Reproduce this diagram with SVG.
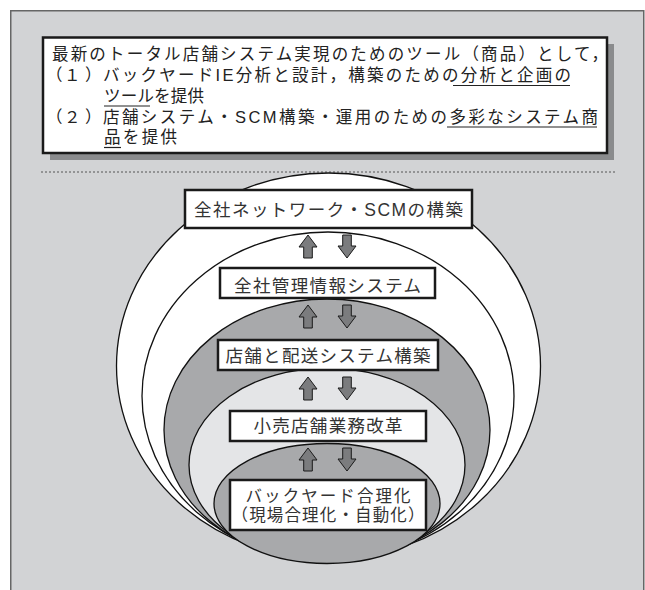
<svg xmlns="http://www.w3.org/2000/svg" width="645" height="590" viewBox="0 0 645 590">
<style>
  .t { font-family: "Liberation Sans", "Noto Sans CJK JP", sans-serif; fill: #222; }
  .top { font-size: 16.5px; }
  .lbl { font-size: 17.5px; fill: #333; text-anchor: middle; }
  .lbl2 { font-size: 16.5px; fill: #333; text-anchor: middle; }
  .box { fill: #fff; stroke: #1a1a1a; stroke-width: 2.5; }
  .ring { stroke: #111; stroke-width: 1.3; }
  .arr { fill: #7b7c7e; stroke: #1a1a1a; stroke-width: 1; stroke-linejoin: miter; }
  .ul { stroke: #222; stroke-width: 1.2; }
</style>
<defs>
  <path id="up" d="M0,0 L9,12 L4.3,12 L4.3,23 L-4.3,23 L-4.3,12 L-9,12 Z"/>
  <path id="down" d="M-4.3,0 L4.3,0 L4.3,11 L9,11 L0,23 L-9,11 L-4.3,11 Z"/>
</defs>
<rect x="0" y="0" width="645" height="590" fill="#fff"/>
<rect id="frame" x="10.75" y="10.75" width="633" height="590" fill="#d2d3d5" stroke="#666" stroke-width="1.5"/>

<g id="header">
  <rect x="50" y="44" width="564" height="116" fill="#8a8b8d"/>
  <rect class="box" x="43" y="37.5" width="564" height="115.5"/>
  <text class="t top"><tspan x="52" y="60" textLength="556" lengthAdjust="spacing">最新のトータル店舗システム実現のためのツール（商品）として，</tspan><tspan x="46 64 85" y="81">（１）</tspan><tspan x="103" y="81" textLength="468" lengthAdjust="spacing">バックヤードIE分析と設計，構築のための分析と企画の</tspan><tspan x="104" y="101.5" textLength="100" lengthAdjust="spacing">ツールを提供</tspan><tspan x="46 64 85" y="122.5">（２）</tspan><tspan x="103" y="122.5" textLength="495" lengthAdjust="spacing">店舗システム・SCM構築・運用のための多彩なシステム商</tspan><tspan x="104" y="143" textLength="73" lengthAdjust="spacing">品を提供</tspan></text>
  <line class="ul" x1="453" y1="85.5" x2="570" y2="85.5"/>
  <line class="ul" x1="104" y1="106" x2="150" y2="106"/>
  <line class="ul" x1="447" y1="127" x2="597" y2="127"/>
  <line class="ul" x1="104" y1="147.5" x2="121" y2="147.5"/>
</g>

<line id="divider" x1="41" y1="172" x2="615" y2="172" stroke="#555" stroke-width="1" stroke-dasharray="2,2"/>

<g id="rings">
  <ellipse class="ring" cx="328.5" cy="366" rx="212" ry="193" fill="#fff"/>
  <ellipse class="ring" cx="328" cy="396" rx="186" ry="164" fill="#fff"/>
  <ellipse class="ring" cx="327" cy="430" rx="163" ry="131" fill="#a8a9ab"/>
  <ellipse class="ring" cx="327" cy="465" rx="138" ry="97" fill="#e4e5e7"/>
  <ellipse class="ring" cx="327" cy="503.5" rx="113" ry="60" fill="#a8a9ab"/>
</g>

<g id="connectors">
  <use href="#up" class="arr" x="308" y="235"/>
  <use href="#down" class="arr" x="347" y="235"/>
  <use href="#up" class="arr" x="308" y="305"/>
  <use href="#down" class="arr" x="347" y="305"/>
  <use href="#up" class="arr" x="308" y="377"/>
  <use href="#down" class="arr" x="347" y="377"/>
  <use href="#up" class="arr" x="308" y="448"/>
  <use href="#down" class="arr" x="347" y="448"/>
</g>

<g id="node-network">
  <rect class="box" x="185" y="190" width="287" height="38"/>
  <text class="t lbl" x="328.5" y="216" textLength="269" lengthAdjust="spacing">全社ネットワーク・SCMの構築</text>
</g>
<g id="node-mis">
  <rect class="box" x="220" y="268" width="215" height="30"/>
  <text class="t lbl" x="327.5" y="291.5" textLength="187" lengthAdjust="spacing">全社管理情報システム</text>
</g>
<g id="node-store-delivery">
  <rect class="box" x="218" y="340" width="220" height="30"/>
  <text class="t lbl" x="328" y="361.5" textLength="205" lengthAdjust="spacing">店舗と配送システム構築</text>
</g>
<g id="node-retail">
  <rect class="box" x="230" y="411" width="196" height="30"/>
  <text class="t lbl" x="328" y="432" textLength="149" lengthAdjust="spacing">小売店舗業務改革</text>
</g>
<g id="node-backyard">
  <rect class="box" x="230" y="480" width="196" height="50"/>
  <text class="t lbl2"><tspan x="328" y="501.5" textLength="165" lengthAdjust="spacing">バックヤード合理化</tspan><tspan x="328" y="520.5" textLength="193" lengthAdjust="spacing">（現場合理化・自動化）</tspan></text>
</g>
</svg>
